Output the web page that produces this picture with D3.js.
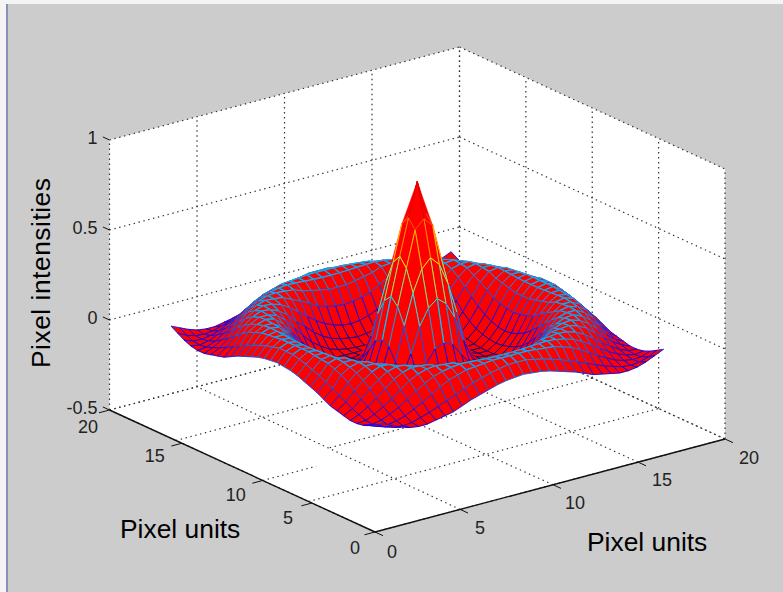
<!DOCTYPE html>
<html>
<head>
<meta charset="utf-8">
<script src="https://cdn.jsdelivr.net/npm/d3@7"></script>
<style>
  html, body { margin: 0; background: #cccccc; }
  svg { display: block; }
  text { font-family: "Liberation Sans", Arial, sans-serif; fill: #222; }
</style>
</head>
<body>
<div id="chart"></div>
<script>
const WIDTH = 783
const HEIGHT = 592

const xTicks = [0, 5, 10, 15, 20]
const yTicks = [0, 5, 10, 15, 20]
const zTicks = [-0.5, 0, 0.5, 1]
const zTickLabels = ["-0.5", "0", "0.5", "1"]
// where the tick marks really sit on the picture, they are a bit uneven
const xTickAt = [0, 4.86, 10.17, 15.03, 20]
const yTickAt = [0, 4.75, 8.45, 14.55, 20]
const xLabel = "Pixel units"
const yLabel = "Pixel units"
const zLabel = "Pixel intensities"

// grid positions, every 0.5 between 2 and 18
const gridX = [2,2.5,3,3.5,4,4.5,5,5.5,6,6.5,7,7.5,8,8.5,9,9.5,10,10.5,11,11.5,12,12.5,13,13.5,14,14.5,15,15.5,16,16.5,17,17.5,18]
const gridY = gridX
const centerIndex = 16

// heights, the surface is symmetric so only
// one octant is kept: row = steps from center, column = other steps
const heights = [
  [.85],
  [.66,.61],
  [.46,.41,.29],
  [.25,.21,.12,-.02],
  [.02,0,-.07,-.13,-.17],
  [-.14,-.15,-.165,-.18,-.19,-.195],
  [-.18,-.185,-.19,-.195,-.195,-.195,-.18],
  [-.195,-.195,-.195,-.195,-.195,-.18,-.15,-.11],
  [-.195,-.195,-.19,-.18,-.165,-.135,-.1,-.05,.005],
  [-.165,-.16,-.15,-.135,-.11,-.075,-.03,.01,.06,.095],
  [-.11,-.105,-.09,-.07,-.04,-.005,.035,.07,.1,.115,.12],
  [-.02,-.015,-.005,.01,.04,.065,.085,.11,.115,.12,.105,.08],
  [.06,.06,.07,.08,.09,.11,.115,.12,.115,.1,.075,.04,0],
  [.11,.11,.112,.115,.118,.12,.115,.105,.09,.065,.035,0,-.03,-.055],
  [.12,.12,.12,.115,.11,.105,.09,.075,.05,.02,-.01,-.035,-.06,-.075,-.083],
  [.1,.1,.09,.08,.065,.05,.03,.01,-.01,-.03,-.05,-.065,-.08,-.085,-.08,-.065],
  [.05,.045,.04,.03,.015,0,-.015,-.035,-.055,-.065,-.075,-.085,-.085,-.078,-.062,-.04,-.018]
]

const jetStops = [0, 0.125, 0.375, 0.625, 0.875, 1]
const jetColors = ["#000080", "#0000ff", "#00ffff", "#ffff00", "#ff0000", "#800000"]

// oblique projection, each data axis adds its share to the screen position
const originX = 375
const originY = 532
const xToLeft = d3.scaleLinear().domain([0, 20]).range([0, 350])
const yToLeft = d3.scaleLinear().domain([0, 20]).range([0, -265.5])
const xToTop = d3.scaleLinear().domain([0, 20]).range([0, -93])
const yToTop = d3.scaleLinear().domain([0, 20]).range([0, -122])
const zToTop = d3.scaleLinear().domain([-0.5, 1]).range([0, -270])

function project(x, y, z) {
  return [originX + xToLeft(x) + yToLeft(y), originY + xToTop(x) + yToTop(y) + zToTop(z)]
}

function heightAt(i, j) {
  const a = Math.abs(i - centerIndex)
  const b = Math.abs(j - centerIndex)
  return heights[Math.max(a, b)][Math.min(a, b)]
}

const zExtent = d3.extent(heights.flat())
const jetPos = d3.scaleLinear().domain(zExtent).range([0, 1])
const jet = d3.scaleLinear().domain(jetStops).range(jetColors)

const svg = d3.select("#chart").append("svg")
  .attr("width", WIDTH)
  .attr("height", HEIGHT)

// window edge
svg.append("rect").attr("x", 0).attr("y", 0).attr("width", WIDTH).attr("height", 4).attr("fill", "#f4f4f4")
svg.append("rect").attr("x", 0).attr("y", 0).attr("width", 6).attr("height", HEIGHT).attr("fill", "#f4f4f4")
svg.append("rect").attr("x", 6).attr("y", 4).attr("width", 2).attr("height", HEIGHT).attr("fill", "#8792b8")

// white box
const boxCorners = [[0,0,-0.5],[20,0,-0.5],[20,0,1],[20,20,1],[0,20,1],[0,20,-0.5]]
svg.append("polygon")
  .attr("points", boxCorners.map(d => project(d[0], d[1], d[2]).join(",")).join(" "))
  .attr("fill", "white")

const gridLines = []
xTicks.forEach((x, k) => {
  gridLines.push([[xTickAt[k],0,-0.5],[x,20,-0.5]])
  gridLines.push([[x,20,-0.5],[x,20,1]])
})
yTicks.forEach((y, k) => {
  // the 10 line is broken in the reference: a short piece from its tick, the rest from x = 5
  if (y === 10) {
    gridLines.push([[0,yTickAt[k],-0.5],[3.05,yTickAt[k],-0.5]])
    gridLines.push([[5,y,-0.5],[20,y,-0.5]])
  } else {
    gridLines.push([[0,y,-0.5],[20,y,-0.5]])
  }
  gridLines.push([[20,y,-0.5],[20,y,1]])
})
zTicks.forEach(z => {
  gridLines.push([[0,20,z],[20,20,z]])
  gridLines.push([[20,20,z],[20,0,z]])
})

function drawSegment(g, seg) {
  const p = project(seg[0][0], seg[0][1], seg[0][2])
  const q = project(seg[1][0], seg[1][1], seg[1][2])
  return g.append("line").attr("x1", p[0]).attr("y1", p[1]).attr("x2", q[0]).attr("y2", q[1])
}

const gridG = svg.append("g")
gridLines.forEach(seg => {
  drawSegment(gridG, seg)
    .attr("stroke", "#333")
    .attr("stroke-width", 1.2)
    .attr("stroke-dasharray", "1.4 3.6")
})

// solid axes and ticks
const axisG = svg.append("g").attr("stroke", "#111")
drawSegment(axisG, [[0,0,-0.5],[20,0,-0.5]]).attr("stroke-width", 1.4)
drawSegment(axisG, [[0,0,-0.5],[0,20,-0.5]]).attr("stroke-width", 1.4)
xTickAt.forEach(x => drawSegment(axisG, [[x,0,-0.5],[x,-0.6,-0.5]]))
yTickAt.forEach(y => drawSegment(axisG, [[0,y,-0.5],[-0.6,y,-0.5]]))
zTicks.forEach(z => drawSegment(axisG, [[0,20,z],[0,20.5,z]]))

// tick labels, offsets from the tick plus small nudges
const textG = svg.append("g")
const xNudge = [[-5,1],[-2,0],[0,0],[2,-1],[2,0]]
const yNudge = [[4,1],[0,0],[-3,0.5],[-3,-2],[2.5,2]]
xTicks.forEach((x, k) => {
  const p = project(xTickAt[k], 0, -0.5)
  textG.append("text").attr("x", p[0] + 22 + xNudge[k][0]).attr("y", p[1] + 24.5 + xNudge[k][1])
    .attr("text-anchor", "middle").attr("font-size", 18).text(x)
})
yTicks.forEach((y, k) => {
  const p = project(0, yTickAt[k], -0.5)
  textG.append("text").attr("x", p[0] - 24 + yNudge[k][0]).attr("y", p[1] + 20.5 + yNudge[k][1])
    .attr("text-anchor", "middle").attr("font-size", 18).text(y)
})
zTicks.forEach((z, k) => {
  const p = project(0, 20, z)
  textG.append("text").attr("x", p[0] - 12).attr("y", p[1] + 3.5)
    .attr("text-anchor", "end").attr("font-size", 18).text(zTickLabels[k])
})

// axis titles
textG.append("text").attr("x", 120).attr("y", 538).attr("font-size", 26.4).style("fill", "#000").text(yLabel)
textG.append("text").attr("x", 587).attr("y", 551).attr("font-size", 26.4).style("fill", "#000").text(xLabel)
textG.append("text").attr("transform", "translate(50,368) rotate(-90)")
  .attr("font-size", 26.4).attr("textLength", 190).style("fill", "#000").text(zLabel)

// surface, far cells first
const cells = []
d3.range(gridX.length - 2, -1, -1).forEach(i => {
  d3.range(gridY.length - 2, -1, -1).forEach(j => {
    cells.push([i, j])
  })
})

function vertex(i, j) {
  return project(gridX[i], gridY[j], heightAt(i, j))
}

const lineShape = d3.line()

const cellG = svg.append("g").selectAll("g.cell")
  .data(cells)
  .join("g")
  .attr("class", "cell")

// hull so the steep cells near the peak have no notch in the fill
cellG.append("path")
  .attr("d", d => lineShape(d3.polygonHull([vertex(d[0], d[1]), vertex(d[0] + 1, d[1]), vertex(d[0] + 1, d[1] + 1), vertex(d[0], d[1] + 1)])) + "Z")
  .attr("fill", "#ff0000")
  .attr("stroke", "#ff0000")
  .attr("stroke-width", 0.4)

function edgesOf(d) {
  const i = d[0], j = d[1]
  return [[[i, j], [i + 1, j]], [[i + 1, j], [i + 1, j + 1]], [[i + 1, j + 1], [i, j + 1]], [[i, j + 1], [i, j]]]
}

function edgeHeight(e) {
  return (heightAt(e[0][0], e[0][1]) + heightAt(e[1][0], e[1][1])) / 2
}

// only the top of the ring shows bright in the reference
function onRidge(e) {
  const h = edgeHeight(e)
  return h > 0.105 && h < 0.14
}

cellG.selectAll("path.edge")
  .data(d => edgesOf(d))
  .join("path")
  .attr("class", "edge")
  .attr("d", e => lineShape([vertex(e[0][0], e[0][1]), vertex(e[1][0], e[1][1])]))
  .attr("fill", "none")
  .attr("stroke-width", e => onRidge(e) ? 1.2 : 1)
  .attr("stroke-opacity", e => onRidge(e) ? 1 : 0.85)
  .attr("stroke", e => jet(jetPos(edgeHeight(e))))
</script>
</body>
</html>
